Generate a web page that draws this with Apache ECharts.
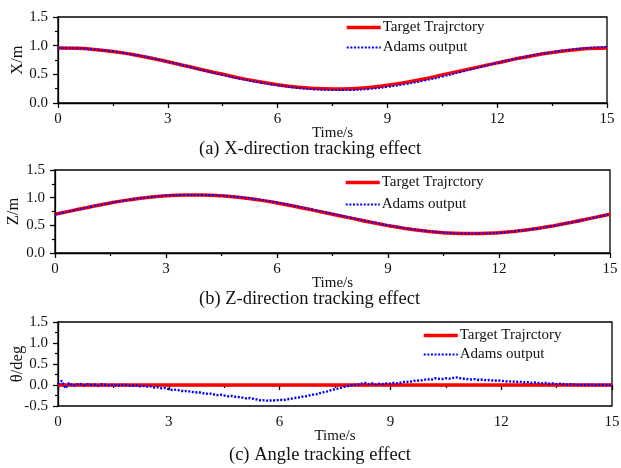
<!DOCTYPE html>
<html><head><meta charset="utf-8">
<script src="https://cdn.jsdelivr.net/npm/echarts@6/dist/echarts.min.js"></script>
<style>html,body{margin:0;padding:0;background:#fff}#c{width:621px;height:468px}</style>
</head><body><div id="c"></div>
<script>
// ---- data ----
const time05 = [0,0.5,1,1.5,2,2.5,3,3.5,4,4.5,5,5.5,6,6.5,7,7.5,8,8.5,9,9.5,10,10.5,11,11.5,12,12.5,13,13.5,14,14.5,15];
const xTarget = [0.96,0.955,0.935,0.90,0.85,0.79,0.72,0.645,0.57,0.50,0.43,0.37,0.32,0.28,0.255,0.245,0.25,0.27,0.31,0.36,0.42,0.49,0.56,0.63,0.70,0.77,0.83,0.88,0.92,0.95,0.96];
const xAdams  = [0.96,0.955,0.935,0.90,0.85,0.79,0.72,0.645,0.565,0.49,0.42,0.36,0.31,0.265,0.24,0.228,0.228,0.245,0.28,0.33,0.39,0.46,0.54,0.62,0.70,0.77,0.835,0.885,0.93,0.96,0.98];
const zTarget = [0.70,0.77,0.84,0.905,0.96,1.003,1.033,1.048,1.048,1.033,1.003,0.96,0.905,0.84,0.77,0.70,0.63,0.56,0.495,0.44,0.397,0.367,0.352,0.352,0.367,0.397,0.44,0.495,0.56,0.63,0.70];
const zAdams  = [0.70,0.77,0.84,0.905,0.96,1.004,1.035,1.05,1.05,1.036,1.007,0.966,0.912,0.848,0.778,0.708,0.637,0.566,0.50,0.444,0.40,0.369,0.353,0.352,0.366,0.396,0.439,0.494,0.559,0.629,0.70];
const thetaTarget = [0,0];
const thetaTargetTime = [0,15];
const thetaAdams = [
 0.02,0.10,-0.08,0.05,-0.02,0.01,0.03,-0.01,0.02,0.00,
 0.01,-0.02,0.02,0.00,-0.01,0.01,-0.02,0.01,0.00,-0.01,
 -0.02,0.00,-0.03,-0.02,-0.04,-0.03,-0.06,-0.05,-0.08,-0.07,
 -0.10,-0.12,-0.11,-0.13,-0.15,-0.14,-0.16,-0.18,-0.17,-0.19,
 -0.21,-0.20,-0.22,-0.24,-0.23,-0.25,-0.27,-0.26,-0.28,-0.29,
 -0.30,-0.32,-0.31,-0.33,-0.35,-0.37,-0.36,-0.38,-0.36,-0.37,
 -0.35,-0.36,-0.34,-0.33,-0.31,-0.30,-0.28,-0.27,-0.25,-0.23,
 -0.22,-0.19,-0.17,-0.15,-0.12,-0.10,-0.08,-0.06,-0.03,-0.02,
 0.01,0.00,0.03,0.05,0.02,0.04,0.01,0.03,0.02,0.04,
 0.03,0.05,0.04,0.06,0.08,0.07,0.09,0.11,0.10,0.12,
 0.14,0.12,0.16,0.15,0.14,0.16,0.15,0.17,0.18,0.16,
 0.15,0.14,0.13,0.14,0.12,0.13,0.11,0.12,0.10,0.11,
 0.10,0.09,0.08,0.09,0.07,0.08,0.06,0.07,0.05,0.06,
 0.05,0.04,0.05,0.03,0.04,0.02,0.03,0.02,0.01,0.02,
 0.01,0.00,0.01,0.00,0.01,0.00,0.00,0.01,0.00,0.00,
 0.00];
const thetaTime = thetaAdams.map((_, i) => i / 10);
const xTicks = [0,3,6,9,12,15];
const yLabelsXZ = ['0.0','0.5','1.0','1.5'];
const yLabelsTheta = ['-0.5','0.0','0.5','1.0','1.5'];
const seriesNames = ['Target Trajrctory','Adams output'];
const panelTitles = ['(a) X-direction tracking effect','(b) Z-direction tracking effect','(c) Angle tracking effect'];
const yNames = ['X/m','Z/m','θ/deg'];

// ---- chart ----
const FONT = '"Liberation Serif","Times New Roman",serif';
const pair = (ts, vs) => ts.map((t, i) => [t, vs[i]]);
const grids = [
  {left:58, right:14, top:17, height:86},
  {left:55, right:11, top:170, height:83},
  {left:58, right:9, top:322, height:84}
];
const yRanges = [[0,1.5],[0,1.5],[-0.5,1.5]];
const txt = {fontFamily: FONT, fontSize: 15, color: '#111'};

const option = {
  backgroundColor: '#fff',
  animation: false,
  grid: grids.map(g => Object.assign({show:true, borderColor:'#000', borderWidth:1.3, backgroundColor:'transparent', containLabel:false, outerBoundsMode:'none'}, g)),
  xAxis: grids.map((g, i) => ({
    gridIndex: i, type:'value', min:0, max:15, interval:3,
    name:'Time/s', nameLocation:'middle', nameGap:23, nameMoveOverlap:false,
    nameTextStyle: Object.assign({}, txt, {fontSize:15}),
    axisLine:{show:true, lineStyle:{color:'#000', width:1.3}},
    axisTick:{show:true, inside:false, length:5, lineStyle:{color:'#000', width:1.3}},
    minorTick:{show:true, splitNumber:2, length:3, lineStyle:{color:'#000', width:1.2}},
    splitLine:{show:false},
    axisLabel: Object.assign({}, txt, {margin:9, formatter: v => xTicks.includes(v) ? String(v) : ''})
  })),
  yAxis: grids.map((g, i) => ({
    gridIndex: i, type:'value', min:yRanges[i][0], max:yRanges[i][1], interval:0.5,
    name: yNames[i], nameLocation:'middle', nameGap: i===1 ? 33 : 32, nameMoveOverlap:false,
    nameTextStyle: Object.assign({}, txt, {fontSize:16.5}),
    axisLine:{show:true, onZero:false, lineStyle:{color:'#000', width:1.3}},
    axisTick:{show:true, inside:false, length:5, lineStyle:{color:'#000', width:1.3}},
    minorTick:{show:true, splitNumber:2, length:3, lineStyle:{color:'#000', width:1.2}},
    splitLine:{show:false},
    axisLabel: Object.assign({}, txt, {margin:10, formatter: v => {
      const labs = i===2 ? yLabelsTheta : yLabelsXZ;
      const s = v.toFixed(1);
      return labs.includes(s) ? s : '';
    }})
  })),
  legend: [
    {left:345, top:20},
    {left:344, top:175},
    {left:422, top:328}
  ].map((l, i) => ({
    left:l.left, top:l.top, orient:'vertical', itemWidth:34, itemHeight:14, padding:0,
    itemGap: i===0 ? 5 : (i===1 ? 7 : 4),
    itemStyle:{opacity:0},
    textStyle: Object.assign({}, txt, {padding:[0,0,0,-3]}),
    data: [
      {name: seriesNames[0] + '\u200b'.repeat(i), lineStyle:{width:3.5, color:'#ff0000', type:'solid'}},
      {name: seriesNames[1] + '\u200b'.repeat(i), lineStyle:{width:2.2, color:'#0000ff', type:[2,1.6]}}
    ]
  })),
  graphic: panelTitles.map((t, i) => ({
    type:'text', left: [199, 199, 229][i], top: [140, 290, 446][i],
    style:{text:t, font:'18.5px ' + FONT, fill:'#111'}
  })),
  series: []
};

const redStyle = {color:'#ff0000', width:3.5};
const blueStyle = {color:'#0000ff', width:2, type:[2,1.6]};
const panels = [
  [pair(time05, xTarget), pair(time05, xAdams), true],
  [pair(time05, zTarget), pair(time05, zAdams), true],
  [pair(thetaTargetTime, thetaTarget), pair(thetaTime, thetaAdams), false]
];
panels.forEach((p, i) => {
  option.series.push({
    name: seriesNames[0] + '\u200b'.repeat(i), type:'line', xAxisIndex:i, yAxisIndex:i,
    data:p[0], smooth:p[2], showSymbol:false, symbol:'none', lineStyle:redStyle, itemStyle:{color:'#ff0000'}, z:2
  });
  option.series.push({
    name: seriesNames[1] + '\u200b'.repeat(i), type:'line', xAxisIndex:i, yAxisIndex:i,
    data:p[1], smooth:p[2], showSymbol:false, symbol:'none',
    lineStyle: i===2 ? Object.assign({}, blueStyle, {width:2.4}) : blueStyle,
    itemStyle:{color:'#0000ff'}, z:3
  });
});

const chart = echarts.init(document.getElementById('c'), null, {renderer:'canvas'});
chart.setOption(option);
</script>
</body></html>
